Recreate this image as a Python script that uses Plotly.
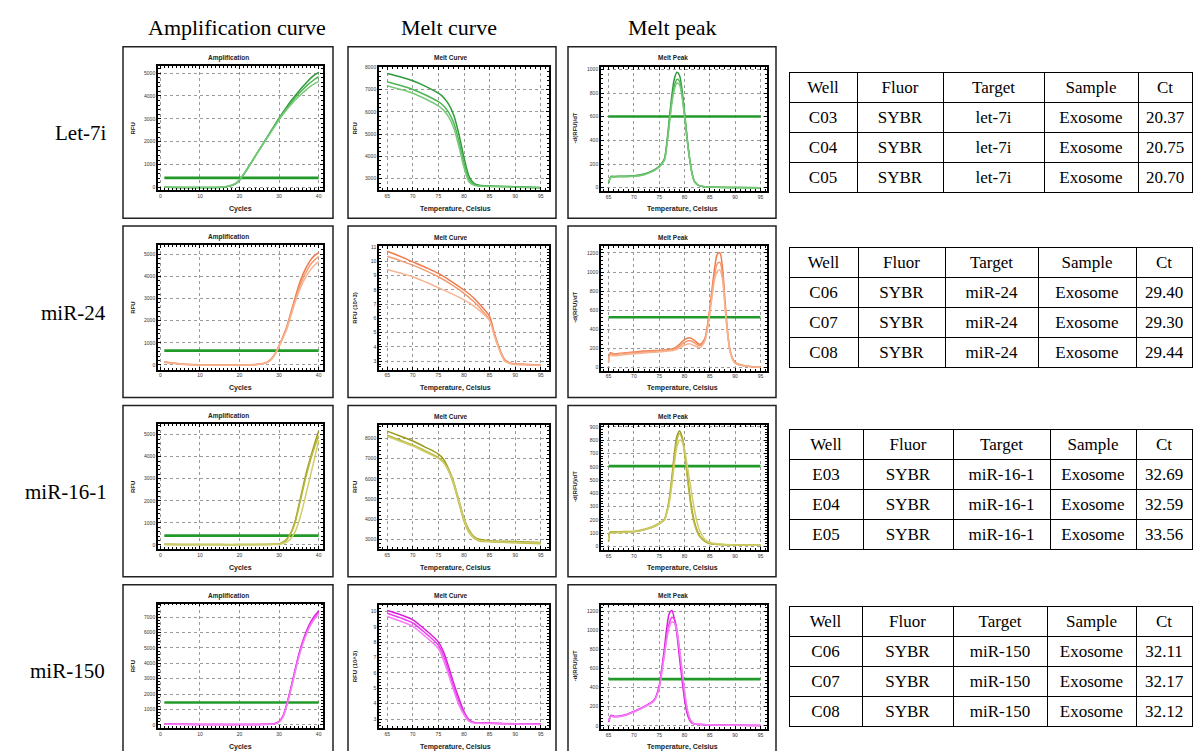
import plotly.graph_objects as go

W, H = 1194, 751

# ---------------- qPCR data ----------------
# Amplification (RFU vs cycle), three replicate wells per target
let7i_cycles = [1, 4, 8, 12, 15, 17, 19, 20, 21, 22, 23, 24, 25, 26, 27, 28, 29, 30, 31, 32, 33, 34, 35, 36, 37, 38, 39, 40]
let7i_amp_a = [15, 5, 0, 0, 5, 40, 160, 320, 550, 820, 1090, 1370, 1650, 1930, 2200, 2480, 2760, 3030, 3290, 3540, 3780, 4000, 4210, 4410, 4600, 4780, 4920, 5030]
let7i_amp_b = [20, 5, 0, 0, 10, 50, 170, 330, 560, 830, 1100, 1380, 1650, 1920, 2190, 2460, 2730, 3000, 3250, 3480, 3700, 3910, 4100, 4280, 4450, 4600, 4730, 4840]
let7i_amp_c = [25, 10, 0, 0, 10, 55, 180, 340, 570, 840, 1110, 1380, 1650, 1910, 2170, 2430, 2690, 2960, 3200, 3420, 3620, 3810, 3980, 4140, 4290, 4430, 4540, 4640]

mir24_cycles = [1, 3, 5, 8, 10, 15, 20, 24, 25, 26, 27, 28, 29, 30, 31, 32, 33, 34, 35, 36, 37, 38, 39, 40]
mir24_amp_a = [140, 90, 45, 15, 5, -5, 5, 15, 35, 65, 125, 260, 510, 870, 1290, 1760, 2380, 3000, 3600, 4080, 4450, 4750, 4950, 5080]
mir24_amp_b = [130, 80, 40, 10, 0, -10, 0, 10, 30, 60, 120, 250, 500, 850, 1250, 1700, 2300, 2900, 3450, 3900, 4250, 4550, 4750, 4900]
mir24_amp_c = [120, 70, 35, 5, -5, -15, -5, 5, 25, 55, 110, 240, 480, 830, 1220, 1650, 2230, 2800, 3300, 3720, 4050, 4320, 4520, 4680]

mir16_cycles = [1, 5, 10, 15, 20, 25, 28, 29, 30, 31, 32, 33, 34, 35, 36, 37, 38, 39, 40]
mir16_amp_a = [30, 20, 15, 10, 10, 15, 25, 30, 40, 120, 280, 560, 1050, 1800, 2600, 3350, 4000, 4600, 5150]
mir16_amp_b = [20, 15, 10, 10, 10, 15, 20, 30, 40, 110, 260, 520, 980, 1700, 2480, 3220, 3880, 4450, 4950]
mir16_amp_c = [10, 5, 5, 5, 5, 10, 15, 15, 20, 60, 140, 290, 580, 1050, 1700, 2450, 3200, 3950, 4750]

mir150_cycles = [1, 5, 10, 15, 20, 25, 27, 28, 29, 30, 31, 32, 33, 34, 35, 36, 37, 38, 39, 40]
mir150_amp_a = [70, 35, 25, 20, 20, 25, 35, 45, 80, 220, 580, 1400, 2420, 3530, 4600, 5450, 6150, 6700, 7100, 7400]
mir150_amp_b = [60, 30, 20, 15, 15, 20, 30, 40, 70, 200, 550, 1350, 2350, 3450, 4500, 5350, 6050, 6600, 7000, 7300]
mir150_amp_c = [50, 25, 15, 10, 10, 15, 25, 35, 60, 180, 520, 1300, 2280, 3370, 4400, 5250, 5950, 6500, 6900, 7200]

# Amplification thresholds (RFU)
amp_thresholds = [420, 645, 420, 1450]

# Melt curves (RFU vs temperature)
let7i_melt_t = [65, 67.5, 70, 72.5, 75, 76, 77, 78, 79, 80, 81, 82, 83, 85, 90, 95]
let7i_melt_a = [7730, 7580, 7400, 7150, 6840, 6650, 6350, 5850, 5000, 3950, 3100, 2780, 2700, 2670, 2640, 2600]
let7i_melt_b = [7360, 7200, 7010, 6760, 6460, 6280, 5980, 5500, 4700, 3700, 2950, 2730, 2680, 2660, 2630, 2590]
let7i_melt_c = [7180, 7020, 6840, 6580, 6270, 6080, 5780, 5280, 4450, 3500, 2850, 2700, 2660, 2650, 2620, 2580]

mir24_melt_t = [65, 67.5, 70, 72.5, 75, 77.5, 80, 82, 84, 85, 86, 87, 88, 89, 90, 92.5, 95]
mir24_melt_a = [10.70, 10.35, 9.96, 9.57, 9.15, 8.60, 7.99, 7.40, 6.60, 6.14, 4.90, 3.82, 3.10, 2.88, 2.82, 2.78, 2.74]
mir24_melt_b = [10.35, 10.05, 9.73, 9.35, 8.92, 8.38, 7.76, 7.15, 6.37, 5.90, 4.78, 3.75, 3.05, 2.86, 2.80, 2.76, 2.72]
mir24_melt_c = [9.43, 9.18, 8.92, 8.55, 8.15, 7.75, 7.30, 6.85, 6.25, 5.84, 4.70, 3.70, 3.00, 2.84, 2.78, 2.74, 2.70]

mir16_melt_t = [65, 67.5, 70, 72.5, 75, 76, 77, 78, 79, 80, 81, 82, 83, 85, 90, 95]
mir16_melt_a = [8360, 8120, 7870, 7560, 7220, 6970, 6480, 5830, 4930, 4030, 3460, 3130, 3000, 2935, 2890, 2840]
mir16_melt_b = [8160, 7920, 7680, 7380, 7050, 6830, 6380, 5700, 4800, 3900, 3330, 3040, 2920, 2880, 2830, 2780]
mir16_melt_c = [8100, 7860, 7620, 7320, 7000, 6800, 6400, 5780, 4900, 4000, 3400, 3080, 2950, 2900, 2850, 2820]

mir150_melt_t = [65, 67.5, 70, 72.5, 75, 76, 77, 78, 79, 80, 81, 82, 85, 90, 95]
mir150_melt_a = [10.06, 9.80, 9.46, 8.80, 8.02, 7.37, 6.40, 5.32, 4.35, 3.49, 2.95, 2.78, 2.74, 2.69, 2.67]
mir150_melt_b = [9.89, 9.60, 9.25, 8.58, 7.80, 7.09, 6.14, 5.07, 4.14, 3.38, 2.91, 2.76, 2.72, 2.68, 2.66]
mir150_melt_c = [9.68, 9.38, 9.03, 8.36, 7.59, 6.83, 5.86, 4.85, 3.92, 3.28, 2.84, 2.74, 2.71, 2.67, 2.65]

# Melt peaks (-dRFU/dT vs temperature)
let7i_peak_t = [65, 65.5, 66, 68, 70, 72, 74, 75, 76, 76.5, 77, 77.5, 78, 78.5, 79, 79.5, 80, 80.5, 81, 81.5, 82, 83, 85, 90, 95]
let7i_peak_a = [40, 95, 95, 97, 100, 115, 150, 180, 240, 380, 580, 780, 920, 975, 950, 830, 640, 430, 250, 120, 50, 15, 5, 2, 0]
let7i_peak_b = [45, 92, 93, 95, 98, 112, 147, 177, 235, 365, 550, 735, 860, 915, 900, 790, 615, 420, 250, 120, 50, 15, 5, 2, 0]
let7i_peak_c = [50, 90, 91, 93, 96, 110, 145, 175, 230, 355, 535, 710, 830, 885, 870, 770, 600, 410, 245, 120, 50, 15, 5, 2, 0]

mir24_peak_t = [65, 65.3, 66, 68, 70, 72, 74, 76, 78, 79, 80, 81, 82, 83, 84, 84.5, 85, 85.5, 86, 86.5, 87, 87.5, 88, 88.5, 89, 89.5, 90, 91, 93, 95]
mir24_peak_a = [60, 150, 140, 150, 160, 170, 175, 180, 200, 240, 290, 310, 280, 240, 300, 430, 620, 850, 1060, 1190, 1200, 1050, 700, 380, 180, 90, 50, 25, 8, 0]
mir24_peak_b = [55, 140, 135, 145, 155, 162, 168, 175, 190, 220, 260, 280, 255, 225, 285, 410, 590, 800, 990, 1090, 1100, 980, 660, 360, 170, 85, 45, 22, 7, 0]
mir24_peak_c = [50, 125, 120, 130, 140, 150, 158, 165, 178, 200, 230, 245, 225, 205, 270, 390, 560, 760, 930, 1010, 1020, 920, 630, 350, 165, 82, 42, 20, 6, 0]

mir16_peak_t = [65, 65.3, 66, 68, 70, 72, 74, 75, 76, 76.5, 77, 77.5, 78, 78.5, 79, 79.5, 80, 80.5, 81, 81.5, 82, 82.5, 83, 84, 85, 87, 90, 95]
mir16_peak_a = [40, 105, 108, 108, 110, 125, 150, 170, 200, 260, 360, 520, 700, 830, 870, 830, 720, 560, 400, 270, 180, 120, 80, 40, 22, 15, 12, 10]
mir16_peak_b = [45, 110, 110, 112, 115, 130, 155, 175, 205, 260, 350, 500, 670, 800, 850, 815, 700, 540, 380, 250, 165, 110, 75, 38, 22, 15, 12, 10]
mir16_peak_c = [50, 100, 102, 105, 110, 125, 150, 170, 200, 250, 330, 460, 620, 750, 800, 790, 730, 620, 500, 380, 270, 180, 120, 55, 30, 18, 12, 10]

mir150_peak_t = [65, 65.5, 66, 67, 68, 70, 72, 74, 75, 75.5, 76, 76.5, 77, 77.5, 78, 78.5, 79, 79.5, 80, 80.5, 81, 81.5, 82, 85, 90, 95]
mir150_peak_a = [40, 110, 100, 100, 110, 150, 200, 270, 420, 600, 800, 1030, 1180, 1210, 1120, 960, 720, 490, 280, 130, 60, 28, 18, 10, 6, 4]
mir150_peak_b = [45, 105, 98, 98, 108, 148, 198, 265, 405, 570, 750, 940, 1080, 1140, 1120, 1010, 800, 560, 340, 170, 75, 35, 20, 10, 6, 4]
mir150_peak_c = [50, 100, 95, 95, 105, 145, 195, 262, 395, 555, 730, 910, 1040, 1090, 1080, 990, 810, 590, 370, 190, 85, 40, 22, 10, 6, 4]

# Melt peak thresholds
peak_thresholds = [602, 524, 605, 490]

# Result tables
table_header = ["Well", "Fluor", "Target", "Sample", "Ct"]
let7i_wells = ["C03", "C04", "C05"]
let7i_ct = ["20.37", "20.75", "20.70"]
mir24_wells = ["C06", "C07", "C08"]
mir24_ct = ["29.40", "29.30", "29.44"]
mir16_wells = ["E03", "E04", "E05"]
mir16_ct = ["32.69", "32.59", "33.56"]
mir150_wells = ["C06", "C07", "C08"]
mir150_ct = ["32.11", "32.17", "32.12"]
fluor = ["SYBR", "SYBR", "SYBR"]
sample = ["Exosome", "Exosome", "Exosome"]

targets = ["Let-7i", "miR-24", "miR-16-1", "miR-150"]
target_names = ["let-7i", "miR-24", "miR-16-1", "miR-150"]
column_titles = ["Amplification curve", "Melt curve", "Melt peak"]

# ---------------- styling / geometry ----------------
palettes = [
    ["#2f9a3c", "#4db554", "#78c978"],
    ["#f07a4a", "#f39a70", "#f6b491"],
    ["#9c9a1e", "#b9b83c", "#cfcd6a"],
    ["#d81fd8", "#f23cf2", "#f47ff4"],
]
THRESH_COLOR = "#229a2a"
SERIF = "Liberation Serif"
SANS = "Liberation Sans"


def px(x):
    return x / W


def py(y):
    return 1 - y / H


# frame (plot area) and outer box, in pixels, for the first row
frames = {"amp": (158, 323, 63, 188), "melt": (379, 549, 64, 188), "peak": (601, 767, 64, 189)}
boxes = {"amp": (123, 333, 44, 216), "melt": (348, 556, 44, 216), "peak": (568, 776, 44, 216)}
title_x = {"amp": 228, "melt": 451, "peak": 673}
xtitle_x = {"amp": 240, "melt": 455, "peak": 682}
ytitle_x = {"amp": 133, "melt": 355, "peak": 575}
panel_titles = {"amp": "Amplification", "melt": "Melt Curve", "peak": "Melt Peak"}
xtitles = {"amp": "Cycles", "melt": "Temperature, Celsius", "peak": "Temperature, Celsius"}
row_step = 180

amp_sets = [
    (let7i_cycles, [let7i_amp_a, let7i_amp_b, let7i_amp_c]),
    (mir24_cycles, [mir24_amp_a, mir24_amp_b, mir24_amp_c]),
    (mir16_cycles, [mir16_amp_a, mir16_amp_b, mir16_amp_c]),
    (mir150_cycles, [mir150_amp_a, mir150_amp_b, mir150_amp_c]),
]
melt_sets = [
    (let7i_melt_t, [let7i_melt_a, let7i_melt_b, let7i_melt_c]),
    (mir24_melt_t, [mir24_melt_a, mir24_melt_b, mir24_melt_c]),
    (mir16_melt_t, [mir16_melt_a, mir16_melt_b, mir16_melt_c]),
    (mir150_melt_t, [mir150_melt_a, mir150_melt_b, mir150_melt_c]),
]
peak_sets = [
    (let7i_peak_t, [let7i_peak_a, let7i_peak_b, let7i_peak_c]),
    (mir24_peak_t, [mir24_peak_a, mir24_peak_b, mir24_peak_c]),
    (mir16_peak_t, [mir16_peak_a, mir16_peak_b, mir16_peak_c]),
    (mir150_peak_t, [mir150_peak_a, mir150_peak_b, mir150_peak_c]),
]

# axis ranges and tick steps for every panel
amp_yranges = [(-120, 5320), (-210, 5420), (-180, 5470), (-216, 7885)]
melt_yranges = [(2480, 8030), (2.42, 11.07), (2530, 8650), (2.41, 10.45)]
melt_dticks = [1000, 1, 1000, 1]
melt_ylabels = ["RFU", "RFU (10^3)", "RFU", "RFU (10^3)"]
peak_yranges = [(-30, 1022), (-35, 1273), (-25, 912), (-35, 1273)]
peak_dticks = [200, 200, 100, 200]

table_sets = [
    (let7i_wells, let7i_ct, 70, [68, 86, 101, 94, 54]),
    (mir24_wells, mir24_ct, 245, [69, 87, 93, 98, 56]),
    (mir16_wells, mir16_ct, 428, [74, 90, 97, 86, 56]),
    (mir150_wells, mir150_ct, 606, [73, 91, 94, 89, 56]),
]
row_label_x = [80, 73, 66, 67]

fig = go.Figure()
layout = dict(
    width=W, height=H, margin=dict(l=0, r=0, t=0, b=0),
    paper_bgcolor="white", plot_bgcolor="white", showlegend=False,
)
shapes, annotations = [], []


def axis_common():
    return dict(
        showline=True, linecolor="black", linewidth=1.6, mirror="allticks",
        ticks="inside", ticklen=3, tickwidth=1, tickcolor="black",
        showgrid=True, gridcolor="#9a9a9a", griddash="dot", gridwidth=1,
        zeroline=False, tickfont=dict(family=SANS, size=5, color="#333"),
        fixedrange=True,
    )


k = 0
for r in range(4):
    off = r * row_step
    pal = palettes[r]
    panels = [
        ("amp", amp_sets[r], (-0.6, 41.1), amp_yranges[r], 10, 1000 if r < 3 else 1000, amp_thresholds[r], "RFU"),
        ("melt", melt_sets[r], (63.4, 96.6), melt_yranges[r], 5, melt_dticks[r], None, melt_ylabels[r]),
        ("peak", peak_sets[r], (63.5, 96.3), peak_yranges[r], 5, peak_dticks[r], peak_thresholds[r], "-d(RFU)/dT"),
    ]
    for kind, (xs, ys_list), xr, yr, xdt, ydt, thr, ylab in panels:
        k += 1
        xa = "x" if k == 1 else f"x{k}"
        ya = "y" if k == 1 else f"y{k}"
        x0, x1, y0, y1 = frames[kind]
        bx0, bx1, by0, by1 = boxes[kind]

        xaxis = axis_common()
        xaxis.update(domain=[px(x0), px(x1)], range=list(xr), dtick=xdt,
                     tick0=0 if kind == "amp" else 65, anchor=ya,
                     minor=dict(ticks="inside", ticklen=2, tickcolor="black",
                                dtick=1, showgrid=False))
        yaxis = axis_common()
        yaxis.update(domain=[py(y1 + off), py(y0 + off)], range=list(yr), dtick=ydt,
                     tick0=0, anchor=xa,
                     minor=dict(ticks="inside", ticklen=2, tickcolor="black",
                                dtick=ydt / 5, showgrid=False))
        layout["xaxis" if k == 1 else f"xaxis{k}"] = xaxis
        layout["yaxis" if k == 1 else f"yaxis{k}"] = yaxis

        # threshold line
        if thr is not None:
            tx = [1, 40] if kind == "amp" else [65, 95]
            fig.add_trace(go.Scatter(x=tx, y=[thr, thr], mode="lines", xaxis=xa, yaxis=ya,
                                     line=dict(color=THRESH_COLOR, width=2.6), hoverinfo="skip"))
        # replicate curves
        for i, ys in enumerate(ys_list):
            fig.add_trace(go.Scatter(x=xs, y=ys, mode="lines", xaxis=xa, yaxis=ya,
                                     line=dict(color=pal[i], width=1.5, shape="spline", smoothing=0.8)))

        # outer box
        shapes.append(dict(type="rect", xref="paper", yref="paper",
                           x0=px(bx0), x1=px(bx1), y0=py(by1 + off), y1=py(by0 + off),
                           line=dict(color="#222", width=1.5), fillcolor="rgba(0,0,0,0)"))
        # panel title and axis titles
        annotations.append(dict(text=f"<b>{panel_titles[kind]}</b>", xref="paper", yref="paper",
                                x=px(title_x[kind]), y=py(55 + off), showarrow=False,
                                font=dict(family=SANS, size=6.5, color="#222"),
                                xanchor="center", yanchor="middle"))
        annotations.append(dict(text=f"<b>{xtitles[kind]}</b>", xref="paper", yref="paper",
                                x=px(xtitle_x[kind]), y=py(207 + off), showarrow=False,
                                font=dict(family=SANS, size=7, color="#222"),
                                xanchor="center", yanchor="middle"))
        annotations.append(dict(text=f"<b>{ylab}</b>", xref="paper", yref="paper",
                                x=px(ytitle_x[kind]), y=py(126 + off), showarrow=False,
                                textangle=-90, font=dict(family=SANS, size=6, color="#222"),
                                xanchor="center", yanchor="middle"))

    # row label
    annotations.append(dict(text=targets[r], xref="paper", yref="paper",
                            x=px(row_label_x[r]), y=py(131 + off), showarrow=False,
                            font=dict(family=SERIF, size=21, color="black"),
                            xanchor="center", yanchor="middle"))

    # result table
    wells, cts, top, widths = table_sets[r]
    fig.add_trace(go.Table(
        domain=dict(x=[px(789), px(1193)], y=[py(top + 122), py(top)]),
        columnwidth=widths,
        header=dict(values=table_header, height=30, align="center",
                    line=dict(color="black", width=1), fill=dict(color="white"),
                    font=dict(family=SERIF, size=17, color="black")),
        cells=dict(values=[wells, fluor, [target_names[r]] * 3, sample, cts], height=30,
                   align="center", line=dict(color="black", width=1), fill=dict(color="white"),
                   font=dict(family=SERIF, size=17, color="black")),
    ))

# column headers
for title, cx in zip(column_titles, [237, 449, 672]):
    annotations.append(dict(text=title, xref="paper", yref="paper", x=px(cx), y=py(25),
                            showarrow=False, font=dict(family=SERIF, size=22, color="black"),
                            xanchor="center", yanchor="middle"))

layout["shapes"] = shapes
layout["annotations"] = annotations
fig.update_layout(**layout)
fig.write_html("out.html")
